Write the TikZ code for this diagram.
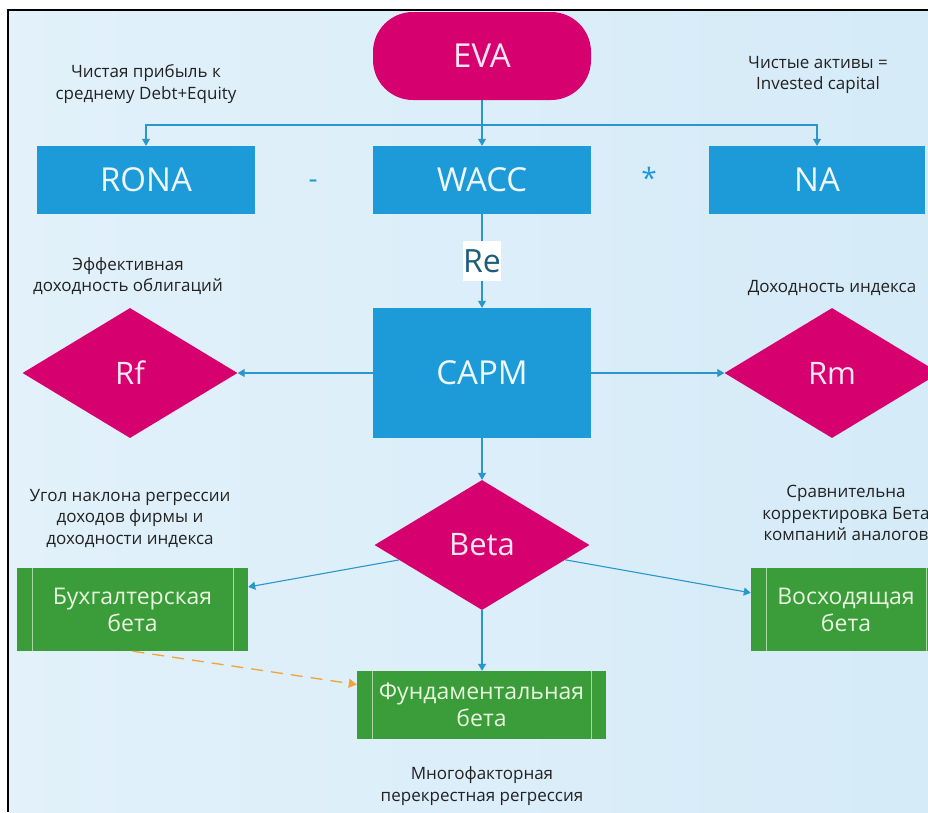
\documentclass[tikz,border=0pt]{standalone}
\usepackage{fontspec}
\setmainfont{Open Sans}
\usetikzlibrary{shapes.geometric,arrows.meta,calc}
\definecolor{bgL}{HTML}{E2F1FA}
\definecolor{bgR}{HTML}{D5EBF8}
\definecolor{boxblue}{HTML}{1D9BD8}
\definecolor{boxtext}{HTML}{EEF8FE}
\definecolor{magenta1}{HTML}{D6006F}
\definecolor{magtext}{HTML}{FCE6F1}
\definecolor{green1}{HTML}{3B9C3A}
\definecolor{greentext}{HTML}{E8F6DF}
\definecolor{greenline}{HTML}{A9D9A2}
\definecolor{linkblue}{HTML}{2996CC}
\definecolor{notetext}{HTML}{222222}
\definecolor{retext}{HTML}{1F5C7A}
\definecolor{dashorange}{HTML}{F0A43A}
\begin{document}
\begin{tikzpicture}[x=1pt,y=-1pt,
  bluebox/.style={fill=boxblue, text=boxtext, font=\fontsize{33}{38}\selectfont,
    minimum width=218pt, minimum height=68pt, inner sep=0pt},
  pill/.style={fill=magenta1, text=magtext, font=\fontsize{33}{38}\selectfont,
    minimum width=218pt, minimum height=88pt, rounded corners=40pt, inner sep=0pt},
  redmond/.style={diamond, fill=magenta1, text=magtext, font=\fontsize{31}{36}\selectfont,
    minimum width=215pt, minimum height=130pt, inner sep=0pt},
  greenbox/.style={fill=green1, text=greentext, font=\fontsize{23}{27}\selectfont,
    align=center, inner sep=0pt,
    path picture={
      \draw[greenline, line width=0.8pt]
        ([xshift=15pt]path picture bounding box.north west) --
        ([xshift=15pt]path picture bounding box.south west);
      \draw[greenline, line width=0.8pt]
        ([xshift=-15pt]path picture bounding box.north east) --
        ([xshift=-15pt]path picture bounding box.south east);}},
  note/.style={text=notetext, font=\fontsize{17}{21.5}\selectfont, align=center, inner sep=0pt},
  opsign/.style={text=boxblue, font=\fontsize{28}{32}\selectfont, inner sep=0pt},
  relabel/.style={fill=white, text=retext, font=\fontsize{32}{36}\selectfont,
    minimum width=38pt, minimum height=40pt, inner sep=0pt},
  conn/.style={draw=linkblue, line width=1.1pt, -{Triangle[width=8pt,length=7pt]}},
  dashconn/.style={draw=dashorange, line width=1.3pt, dash pattern=on 12pt off 8pt,
    -{Triangle[width=9pt,length=8pt]}}
]
\useasboundingbox (0,0) rectangle (928,812);
\fill[white] (0,0) rectangle (928,812);
\shade[left color=bgL, right color=bgR] (9,11) rectangle (928,812);
\draw[black, line width=2pt] (8,812) -- (8,10) -- (928,10);

% nodes
\node[pill] (EVA) at (482,56) {EVA};
\node[bluebox] (RONA) at (146,180) {RONA};
\node[bluebox] (WACC) at (482,180) {WACC};
\node[bluebox, minimum width=216pt] (NA) at (817,180) {NA};
\node[opsign] (minus) at (313,184) {-};
\node[opsign] (star) at (649,178) {*};
\node[bluebox, minimum height=130pt] (CAPM) at (482,373) {CAPM};
\node[redmond] (Rf) at (130,373) {Rf};
\node[redmond] (Rm) at (832,373) {Rm};
\node[redmond] (Beta) at (482,545) {Beta};
\node[greenbox, minimum width=231pt, minimum height=83pt] (buh) at (132.5,609.5) {Бухгалтерская\\бета};
\node[greenbox, minimum width=190pt, minimum height=83pt] (vos) at (846,609.5) {Восходящая\\бета};
\node[greenbox, minimum width=249pt, minimum height=68pt] (fund) at (481.5,705) {Фундаментальная\\бета};

% notes
\node[note] (n1) at (146,84) {Чистая прибыль к\\среднему Debt+Equity};
\node[note] (n2) at (818,75) {Чистые активы =\\Invested capital};
\node[note] (n3) at (128,276) {Эффективная\\доходность облигаций};
\node[note] (n4) at (832,288) {Доходность индекса};
\node[note] (n5) at (130,518) {Угол наклона регрессии\\доходов фирмы и\\доходности индекса};
\node[note] (n6) at (846,513) {Сравнительна\\корректировка Бета\\компаний аналогов};
\node[note] (n7) at (482,786) {Многофакторная\\перекрестная регрессия};

% connectors
\coordinate (split) at (482,125);
\draw[conn] (EVA.south) -- (WACC.north);
\draw[conn] (split) -| (RONA.north);
\draw[conn] (split) -| (NA.north);
\draw[conn] (WACC.south) -- node[relabel] (Re) {Re} (CAPM.north);
\draw[conn] (CAPM.west) -- (Rf.east);
\draw[conn] (CAPM.east) -- (Rm.west);
\draw[conn] (CAPM.south) -- (Beta.north);
\draw[conn] (Beta) -- ($(buh.north east)!0.23!(buh.south east)$);
\draw[conn] (Beta) -- ($(vos.north west)!0.3!(vos.south west)$);
\draw[conn] (Beta.south) -- (Beta.south |- fund.north);
\draw[dashconn] (buh.south) -- ($(fund.north west)!0.2!(fund.south west)$);
\end{tikzpicture}
\end{document}
